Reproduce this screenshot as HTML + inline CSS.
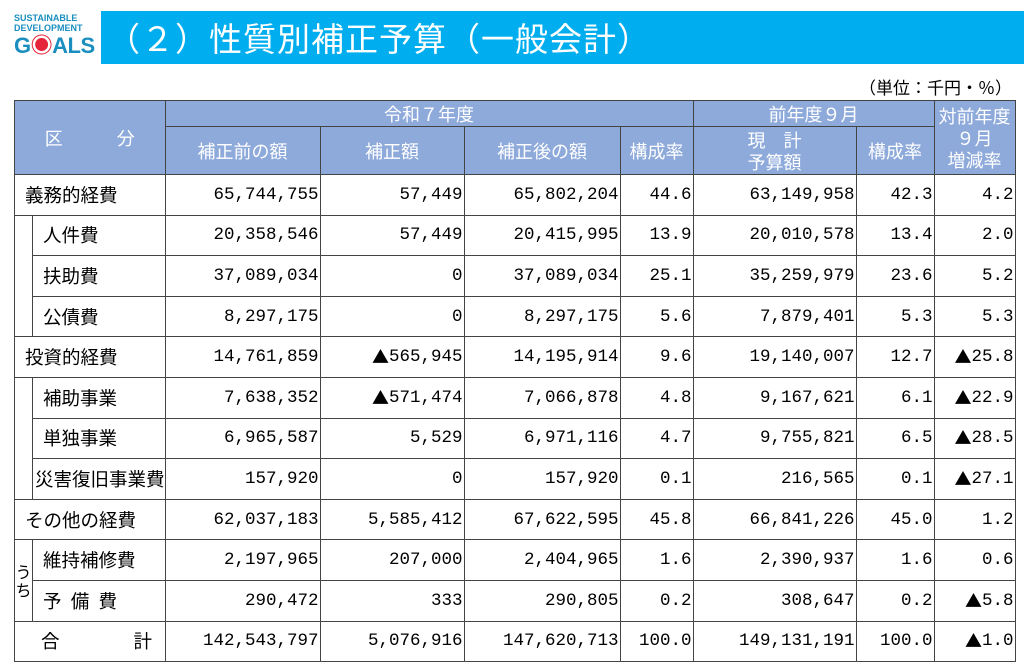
<!DOCTYPE html>
<html><head><meta charset="utf-8"><style>
body{margin:0;width:1024px;height:672px;background:#fff;position:relative;overflow:hidden;font-family:"Liberation Sans","Noto Sans CJK JP",sans-serif;}
.logo{position:absolute;left:14px;top:13px;width:84px;color:#1a8fbf;font-weight:bold;line-height:10px;font-size:9px;}
.logo .g{font-size:22px;line-height:26px;letter-spacing:-0.5px}
.bar{position:absolute;left:101px;top:11px;width:923px;height:53px;background:#00aeef;color:#fff;font-size:33px;line-height:53px;font-family:"Noto Sans CJK JP",sans-serif;padding-left:6px;letter-spacing:1px}
.unit{position:absolute;right:12px;top:74px;font-size:17px;font-family:"Noto Sans CJK JP",sans-serif}
table{position:absolute;left:14px;top:100px;border-collapse:collapse;table-layout:fixed;}
td{border:1.5px solid #444;padding:0;font-size:18.5px;font-family:"Noto Sans CJK JP",sans-serif;white-space:nowrap;overflow:hidden}
td.h{background:#8eaadb;color:#fff;text-align:center;line-height:22px;font-size:18px}
td.n{text-align:right;font-family:"Liberation Mono",monospace;font-size:17.5px;padding-right:1px;line-height:20px}
tr.r td{height:39.6px}
td.l{padding-left:10px}
.t{font-family:"Noto Sans CJK JP",sans-serif;font-size:17px;line-height:1;vertical-align:top;position:relative;top:0px}
</style></head><body>
<div class="logo">SUSTAINABLE<br>DEVELOPMENT<br><span class="g">G<span style="color:#e5243b">◉</span>ALS</span></div>
<div class="bar">（２）性質別補正予算（一般会計）</div>
<div class="unit">（単位：千円・％）</div>
<table>
<colgroup><col style="width:18px"><col style="width:132px"><col style="width:155px"><col style="width:144px"><col style="width:156px"><col style="width:73px"><col style="width:163px"><col style="width:78px"><col style="width:81px"></colgroup>
<tr style="height:26px"><td class="h" colspan="2" rowspan="2">区&emsp;&emsp;&emsp;分</td><td class="h" colspan="4">令和７年度</td><td class="h" colspan="2">前年度９月</td><td class="h" rowspan="2">対前年度<br>９月<br>増減率</td></tr>
<tr style="height:48px"><td class="h">補正前の額</td><td class="h">補正額</td><td class="h">補正後の額</td><td class="h">構成率</td><td class="h">現&emsp;計<br>予算額</td><td class="h">構成率</td></tr>
<tr class="r"><td colspan="2" class="l">義務的経費</td><td class="n">65,744,755</td><td class="n">57,449</td><td class="n">65,802,204</td><td class="n">44.6</td><td class="n">63,149,958</td><td class="n">42.3</td><td class="n">4.2</td></tr>
<tr class="r"><td style="border-top:none;border-bottom:none"></td><td class="l">人件費</td><td class="n">20,358,546</td><td class="n">57,449</td><td class="n">20,415,995</td><td class="n">13.9</td><td class="n">20,010,578</td><td class="n">13.4</td><td class="n">2.0</td></tr>
<tr class="r"><td style="border-top:none;border-bottom:none"></td><td class="l">扶助費</td><td class="n">37,089,034</td><td class="n">0</td><td class="n">37,089,034</td><td class="n">25.1</td><td class="n">35,259,979</td><td class="n">23.6</td><td class="n">5.2</td></tr>
<tr class="r"><td style="border-top:none"></td><td class="l">公債費</td><td class="n">8,297,175</td><td class="n">0</td><td class="n">8,297,175</td><td class="n">5.6</td><td class="n">7,879,401</td><td class="n">5.3</td><td class="n">5.3</td></tr>
<tr class="r"><td colspan="2" class="l">投資的経費</td><td class="n">14,761,859</td><td class="n"><span class="t">▲</span>565,945</td><td class="n">14,195,914</td><td class="n">9.6</td><td class="n">19,140,007</td><td class="n">12.7</td><td class="n"><span class="t">▲</span>25.8</td></tr>
<tr class="r"><td style="border-top:none;border-bottom:none"></td><td class="l">補助事業</td><td class="n">7,638,352</td><td class="n"><span class="t">▲</span>571,474</td><td class="n">7,066,878</td><td class="n">4.8</td><td class="n">9,167,621</td><td class="n">6.1</td><td class="n"><span class="t">▲</span>22.9</td></tr>
<tr class="r"><td style="border-top:none;border-bottom:none"></td><td class="l">単独事業</td><td class="n">6,965,587</td><td class="n">5,529</td><td class="n">6,971,116</td><td class="n">4.7</td><td class="n">9,755,821</td><td class="n">6.5</td><td class="n"><span class="t">▲</span>28.5</td></tr>
<tr class="r"><td style="border-top:none"></td><td style="padding-left:2px">災害復旧事業費</td><td class="n">157,920</td><td class="n">0</td><td class="n">157,920</td><td class="n">0.1</td><td class="n">216,565</td><td class="n">0.1</td><td class="n"><span class="t">▲</span>27.1</td></tr>
<tr class="r"><td colspan="2" class="l">その他の経費</td><td class="n">62,037,183</td><td class="n">5,585,412</td><td class="n">67,622,595</td><td class="n">45.8</td><td class="n">66,841,226</td><td class="n">45.0</td><td class="n">1.2</td></tr>
<tr class="r"><td rowspan="2" style="font-size:16px;line-height:18px;text-align:center;white-space:normal">う<br>ち</td><td class="l">維持補修費</td><td class="n">2,197,965</td><td class="n">207,000</td><td class="n">2,404,965</td><td class="n">1.6</td><td class="n">2,390,937</td><td class="n">1.6</td><td class="n">0.6</td></tr>
<tr class="r"><td class="l">予&ensp;備&ensp;費</td><td class="n">290,472</td><td class="n">333</td><td class="n">290,805</td><td class="n">0.2</td><td class="n">308,647</td><td class="n">0.2</td><td class="n"><span class="t">▲</span>5.8</td></tr>
<tr class="r"><td colspan="2" style="padding-left:26px">合&emsp;&emsp;&emsp;&emsp;計</td><td class="n">142,543,797</td><td class="n">5,076,916</td><td class="n">147,620,713</td><td class="n">100.0</td><td class="n">149,131,191</td><td class="n">100.0</td><td class="n"><span class="t">▲</span>1.0</td></tr>
</table>
</body></html>
